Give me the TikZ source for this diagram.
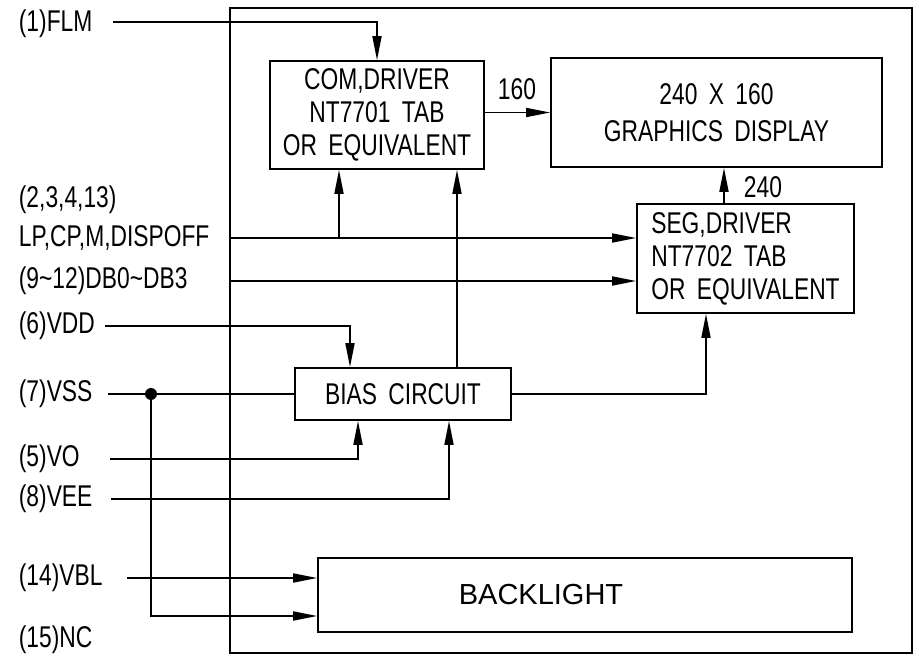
\documentclass[tikz,border=0pt]{standalone}
\usepackage{fontspec}
\setmainfont[FakeStretch=0.76,WordSpace=1.8]{Liberation Sans}
\newfontfamily\blfont{Liberation Sans}
\usetikzlibrary{arrows.meta}
\begin{document}
\begin{tikzpicture}[x=1pt,y=-1pt,
  line width=1.8pt,
  arr/.style={-{Triangle[length=24pt,width=9pt]}},
  blk/.style={draw,rectangle,inner sep=2pt,align=center,font=\fontsize{30}{33}\selectfont},
  lbl/.style={anchor=west,inner sep=0pt,font=\fontsize{30}{33}\selectfont},
  num/.style={inner sep=0pt,font=\fontsize{30}{33}\selectfont}]
\useasboundingbox (0,0) rectangle (919,660);
% outer frame
\draw[line width=2pt] (230,8) rectangle (912,653);
% blocks
\node[blk,minimum width=214pt,minimum height=108pt] (com) at (377,115) {COM,DRIVER\\NT7701 TAB\\OR EQUIVALENT};
\node[blk,minimum width=331pt,minimum height=109pt,font=\fontsize{30}{37}\selectfont] (disp) at (716.5,112.5) {240 X 160\\GRAPHICS DISPLAY};
\node[blk,minimum width=217pt,minimum height=109pt,align=left] (seg) at (745.5,258.5) {SEG,DRIVER\\NT7702 TAB\\OR EQUIVALENT};
\node[blk,minimum width=216pt,minimum height=52pt] (bias) at (403,394) {BIAS CIRCUIT};
\node[draw,rectangle,minimum width=534pt,minimum height=74pt] (bl) at (585,595) {};
\node[inner sep=0pt,font=\blfont\fontsize{29}{33}\selectfont] (bltext) at (541,595) {BACKLIGHT};
% labels
\node[lbl] (flm) at (18,24) {(1)FLM};
\node[lbl] (pins) at (18,200) {(2,3,4,13)};
\node[lbl] (lp) at (18,238) {LP,CP,M,DISPOFF};
\node[lbl] (db) at (18,281) {(9\textasciitilde 12)DB0\textasciitilde DB3};
\node[lbl] (vdd) at (18,326) {(6)VDD};
\node[lbl] (vss) at (18,394) {(7)VSS};
\node[lbl] (vo) at (18,459) {(5)VO};
\node[lbl] (vee) at (18,499) {(8)VEE};
\node[lbl] (vbl) at (18,578) {(14)VBL};
\node[lbl] (nc) at (18,640) {(15)NC};
\node[num] (n160) at (517,89) {160};
\node[num] (n240) at (763,187) {240};
% coordinates
\coordinate (sflm) at (113,22);
\coordinate (slp) at (230,238);
\coordinate (sdb) at (230,281);
\coordinate (svdd) at (105,326);
\coordinate (svss) at (108,394);
\coordinate (svo) at (110,459);
\coordinate (svee) at (111,499);
\coordinate (svbl) at (127,578);
\coordinate (jlp) at (339,238);
\coordinate (dot) at (151,394);
\coordinate (xbias) at (457,0);
\coordinate (xvdd) at (350,0);
\coordinate (xvo) at (358,0);
\coordinate (xvee) at (449,0);
\coordinate (xseg) at (706,0);
\coordinate (x240) at (724,0);
\coordinate (yback) at (0,616);
% connectors
\draw[arr] (sflm) -| (com.north);
\draw[arr] (com.east |- disp.west) -- (disp.west);
\draw[arr] (seg.north -| x240) -- (disp.south -| x240);
\draw[arr] (slp) -- (seg.west |- slp);
\draw[arr] (jlp) -- (com.south -| jlp);
\draw[arr] (sdb) -- (seg.west |- sdb);
\draw[arr] (bias.north -| xbias) -- (com.south -| xbias);
\draw[arr] (svdd) -| (bias.north -| xvdd);
\draw (svss) -- (bias.west);
\fill (dot) circle (6pt);
\draw[arr] (dot) |- (bl.west |- yback);
\draw[arr] (svo) -| (bias.south -| xvo);
\draw[arr] (svee) -| (bias.south -| xvee);
\draw[arr] (bias.east) -| (seg.south -| xseg);
\draw[arr] (svbl) -- (bl.west |- svbl);
\end{tikzpicture}
\end{document}
